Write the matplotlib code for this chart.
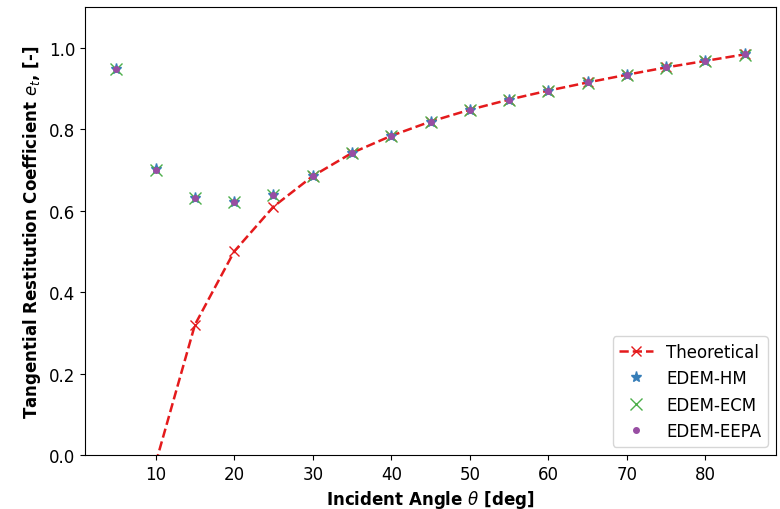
import matplotlib
matplotlib.use("Agg")
import matplotlib.pyplot as plt

# incident angles (deg)
angles = [5, 10, 15, 20, 25, 30, 35, 40, 45, 50, 55, 60, 65, 70, 75, 80, 85]

# theoretical curve (starts at 10 deg, below 0 there)
theo_angles = [10, 15, 20, 25, 30, 35, 40, 45, 50, 55, 60, 65, 70, 75, 80, 85]
theo_et = [-0.02, 0.32, 0.50, 0.61, 0.685, 0.742, 0.784, 0.819, 0.848, 0.873,
           0.895, 0.915, 0.934, 0.952, 0.968, 0.984]

# simulation results
hm_et = [0.948, 0.702, 0.632, 0.622, 0.639, 0.686, 0.742, 0.784, 0.819, 0.848,
         0.873, 0.895, 0.915, 0.934, 0.952, 0.968, 0.984]
ecm_et = [0.947, 0.701, 0.631, 0.621, 0.638, 0.685, 0.741, 0.783, 0.818, 0.847,
          0.872, 0.894, 0.914, 0.933, 0.951, 0.967, 0.983]
eepa_et = [0.948, 0.701, 0.632, 0.622, 0.638, 0.685, 0.742, 0.784, 0.819, 0.848,
           0.873, 0.895, 0.915, 0.934, 0.952, 0.968, 0.984]

fig = plt.figure(figsize=(7.8, 5.1), dpi=100)
ax = fig.add_axes([0.109, 0.106, 0.886, 0.878])

ax.plot(theo_angles, theo_et, "--x", color="#e41a1c", lw=1.8, ms=7, label="Theoretical")
ax.plot(angles, hm_et, "*", color="#377eb8", ms=8, ls="none", label="EDEM-HM")
ax.plot(angles, ecm_et, "x", color="#4daf4a", ms=8, ls="none", label="EDEM-ECM")
ax.plot(angles, eepa_et, "o", color="#984ea3", ms=4, ls="none", label="EDEM-EEPA")

ax.set_ylim(0, 1.1)
ax.set_xlim(1, 89)
ax.set_xticks([10, 20, 30, 40, 50, 60, 70, 80])
ax.set_yticks([0.0, 0.2, 0.4, 0.6, 0.8, 1.0])
ax.tick_params(labelsize=12)

ax.set_xlabel(r"Incident Angle $\theta$ [deg]", fontsize=12, fontweight="bold")
ax.set_ylabel(r"Tangential Restitution Coefficient $e_t$, [-]", fontsize=12, fontweight="bold")

ax.legend(loc="lower right", fontsize=12)

fig.savefig("out.png", dpi=100)
